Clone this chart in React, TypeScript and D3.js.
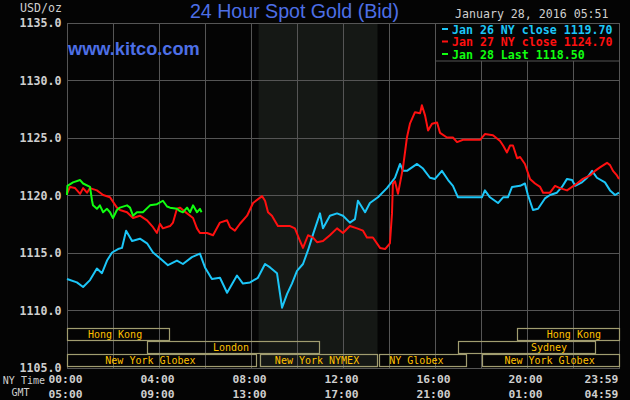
import React from "react";
import * as d3 from "d3";

const W = 630;
const H = 400;

// ---- data (hours since 00:00 NY time, USD/oz) ----
const jan26Hours = [0, 0.43, 0.7, 1.0, 1.3, 1.52, 1.74, 1.96, 2.22, 2.39, 2.57, 2.83, 3.17, 3.48, 3.74, 4.04, 4.39, 4.78, 5.04, 5.43, 5.78, 6.0, 6.3, 6.65, 6.96, 7.39, 7.65, 7.96, 8.3, 8.61, 8.83, 9.13, 9.35, 9.57, 9.78, 10.0, 10.26, 10.48, 10.7, 11.0, 11.13, 11.43, 11.74, 12.0, 12.3, 12.52, 12.65, 12.96, 13.17, 13.52, 13.91, 14.26, 14.48, 14.61, 14.78, 15.22, 15.48, 15.78, 16.0, 16.3, 16.57, 16.78, 17.0, 17.22, 18.04, 18.17, 18.39, 18.74, 18.96, 19.17, 19.35, 19.7, 19.91, 20.04, 20.26, 20.48, 20.78, 21.0, 21.3, 21.52, 21.74, 21.96, 22.09, 22.39, 22.61, 22.83, 23.04, 23.39, 23.61, 23.83, 24.0];
const jan26Values = [1112.7, 1112.4, 1112.0, 1112.6, 1113.6, 1113.2, 1114.3, 1115.0, 1115.3, 1115.4, 1116.9, 1116.0, 1116.2, 1115.8, 1115.0, 1114.5, 1113.9, 1114.3, 1114.0, 1114.6, 1114.9, 1113.7, 1112.7, 1112.8, 1111.5, 1113.0, 1112.3, 1112.4, 1112.8, 1114.0, 1113.7, 1113.2, 1110.2, 1111.4, 1112.3, 1113.4, 1114.0, 1115.2, 1116.6, 1118.4, 1117.1, 1118.2, 1118.4, 1118.2, 1117.6, 1117.9, 1119.5, 1118.5, 1119.3, 1119.8, 1120.6, 1121.5, 1122.7, 1122.1, 1122.1, 1122.7, 1122.3, 1121.5, 1121.4, 1122.1, 1121.3, 1120.8, 1119.8, 1119.8, 1119.8, 1120.4, 1119.8, 1119.3, 1119.8, 1119.8, 1120.7, 1120.8, 1121.0, 1120.0, 1118.7, 1118.8, 1119.7, 1120.0, 1120.2, 1120.7, 1121.4, 1121.3, 1120.8, 1121.1, 1121.5, 1122.1, 1121.5, 1121.1, 1120.4, 1120.0, 1120.2];

const jan27Hours = [0, 0.13, 0.35, 0.57, 0.7, 0.87, 1.0, 1.3, 1.57, 1.87, 2.17, 2.3, 2.61, 2.87, 3.17, 3.48, 3.74, 3.91, 4.04, 4.17, 4.48, 4.61, 4.78, 4.91, 5.22, 5.48, 5.65, 5.78, 6.09, 6.35, 6.65, 6.96, 7.09, 7.3, 7.52, 7.83, 8.09, 8.48, 8.61, 8.74, 8.91, 9.17, 9.7, 9.91, 10.13, 10.26, 10.48, 10.7, 10.87, 11.13, 11.43, 11.74, 12.0, 12.3, 12.61, 12.87, 13.04, 13.3, 13.61, 13.83, 14.04, 14.13, 14.17, 14.26, 14.39, 14.61, 14.78, 14.91, 15.13, 15.35, 15.43, 15.57, 15.7, 15.87, 16.09, 16.22, 16.52, 16.78, 16.96, 17.22, 17.96, 18.17, 18.52, 18.83, 18.96, 19.13, 19.26, 19.39, 19.57, 19.7, 19.91, 20.13, 20.35, 20.57, 20.7, 21.0, 21.22, 21.43, 21.74, 22.17, 22.43, 22.74, 22.96, 23.17, 23.48, 23.61, 23.74, 23.91, 24.0];
const jan27Values = [1120.1, 1120.7, 1120.6, 1120.1, 1120.6, 1120.2, 1120.6, 1120.4, 1120.0, 1119.8, 1118.9, 1118.7, 1118.5, 1118.0, 1118.2, 1117.8, 1117.2, 1116.7, 1117.5, 1117.1, 1117.3, 1117.6, 1118.8, 1118.9, 1118.4, 1118.0, 1117.1, 1116.7, 1116.7, 1116.5, 1117.6, 1117.8, 1117.2, 1116.9, 1117.5, 1118.2, 1119.3, 1119.9, 1119.5, 1118.5, 1118.2, 1117.3, 1117.3, 1117.1, 1116.0, 1115.4, 1116.5, 1116.3, 1115.9, 1116.0, 1116.5, 1117.1, 1116.7, 1117.3, 1117.1, 1116.9, 1116.3, 1116.3, 1115.4, 1115.3, 1115.8, 1118.4, 1121.0, 1121.2, 1120.1, 1122.4, 1125.0, 1126.2, 1127.2, 1127.1, 1127.8, 1126.9, 1125.6, 1126.2, 1126.3, 1125.4, 1125.0, 1125.0, 1124.6, 1124.8, 1124.8, 1125.3, 1125.2, 1124.7, 1124.3, 1123.7, 1124.3, 1124.3, 1123.2, 1123.3, 1122.7, 1121.4, 1121.0, 1120.7, 1120.2, 1120.2, 1120.8, 1120.6, 1120.4, 1121.0, 1121.4, 1121.7, 1122.1, 1122.4, 1122.8, 1122.6, 1122.1, 1121.7, 1121.4];

const jan28Hours = [0, 0.02, 0.26, 0.57, 0.7, 1.0, 1.09, 1.13, 1.3, 1.43, 1.57, 1.74, 1.87, 2.0, 2.17, 2.3, 2.61, 2.74, 2.87, 3.04, 3.3, 3.61, 3.91, 4.17, 4.35, 4.48, 4.78, 4.91, 5.04, 5.22, 5.35, 5.48, 5.65, 5.78, 5.85];
const jan28Values = [1120.0, 1120.8, 1121.1, 1121.3, 1121.0, 1120.7, 1119.5, 1119.1, 1118.8, 1119.1, 1118.5, 1118.8, 1118.5, 1118.0, 1118.7, 1118.9, 1119.1, 1118.9, 1118.2, 1118.5, 1118.5, 1119.1, 1119.2, 1119.5, 1119.0, 1118.9, 1118.8, 1118.6, 1118.5, 1118.9, 1118.5, 1119.1, 1118.5, 1118.8, 1118.5];

const legendLabels = ["Jan 26 NY close 1119.70", "Jan 27 NY close 1124.70", "Jan 28 Last 1118.50"];
const seriesColors = ["#1cc6f8", "#ff1010", "#10ff10"];

const yTicks = [1105, 1110, 1115, 1120, 1125, 1130, 1135];
const xGridHours = [0, 2, 4, 6, 8, 10, 12, 14, 16, 18, 20, 22, 24];
const xTickHours = [0, 4, 8, 12, 16, 20, 23.3];
const nyTimeLabels = ["00:00", "04:00", "08:00", "12:00", "16:00", "20:00", "23:59"];
const gmtLabels = ["05:00", "09:00", "13:00", "17:00", "21:00", "01:00", "04:59"];

const sessionNames = ["Hong Kong", "London", "New York Globex", "New York NYMEX", "NY Globex", "Sydney", "Hong Kong", "New York Globex"];
const sessionStarts = [0, 3.48, 0, 8.37, 13.57, 17.01, 19.55, 18.04];
const sessionEnds = [4.48, 11.0, 8.26, 13.5, 17.38, 22.99, 24, 24];
const sessionRows = [0, 1, 2, 2, 2, 1, 0, 2];
const sessionLabelHours = [2.09, 7.13, 3.63, 10.87, 15.19, 20.96, 22.04, 20.98];

const shadeStart = 8.33;
const shadeEnd = 13.5;

const MONO = "'DejaVu Sans Mono', 'Liberation Mono', monospace";
const SANS = "'Liberation Sans', Arial, sans-serif";

export default function App() {
  const x = d3.scaleLinear().domain([0, 24]).range([67, 619]);
  const y = d3.scaleLinear().domain([1105, 1135]).range([367.5, 22.5]);
  const line = d3
    .line<[number, number]>()
    .x((d) => x(d[0]))
    .y((d) => y(d[1]));

  const series = [
    d3.zip(jan26Hours, jan26Values) as [number, number][],
    d3.zip(jan27Hours, jan27Values) as [number, number][],
    d3.zip(jan28Hours, jan28Values) as [number, number][],
  ];

  const px = (v: number) => Math.round(v) + 0.5;
  const left = px(x(0)) ;
  const right = px(x(24));
  const top = px(y(1135));
  const bottom = px(y(1105));

  const rowTops = [328, 341, 354];
  const rowH = 12;

  const gridColor = "#555555";
  const boxColor = "#a19d70";
  const labelColor = "#ffc000";
  const textGray = "#cfcfcf";

  return (
    <svg
      width={W}
      height={H}
      style={{ position: "fixed", left: 0, top: 0, display: "block" }}
    >
      <rect x={0} y={0} width={W} height={H} fill="#040404" />
      {/* shaded NYMEX hours */}
      <rect
        x={x(shadeStart)}
        y={top}
        width={x(shadeEnd) - x(shadeStart)}
        height={bottom - top}
        fill="#151815"
      />
      {/* vertical grid */}
      {xGridHours.map((h, i) => (
        <line key={"vg" + i} x1={px(x(h))} x2={px(x(h))} y1={top} y2={bottom} stroke={gridColor} strokeWidth={1} />
      ))}
      {/* horizontal grid */}
      {yTicks.map((v, i) => (
        <line key={"hg" + i} x1={left} x2={right} y1={px(y(v))} y2={px(y(v))} stroke={gridColor} strokeWidth={1} />
      ))}
      <rect x={left} y={top} width={right - left} height={bottom - top} fill="none" stroke={gridColor} strokeWidth={1} />

      {/* session boxes */}
      {sessionNames.map((name, i) => {
        const x0 = px(x(sessionStarts[i]));
        const x1 = px(x(sessionEnds[i])) - (sessionEnds[i] >= 24 ? 0 : 1);
        const yt = rowTops[sessionRows[i]] + 0.5;
        return (
          <g key={"s" + i}>
            <rect x={x0} y={yt} width={x1 - x0} height={rowH} fill="none" stroke={boxColor} strokeWidth={1.2} />
            <text
              x={x(sessionLabelHours[i])}
              y={yt + 9.5}
              textAnchor="middle"
              fill={labelColor}
              fontFamily={MONO}
              fontSize={10}
            >
              {name}
            </text>
          </g>
        );
      })}

      {/* series lines */}
      {series.map((s, i) => (
        <path
          key={"l" + i}
          d={line(s) || ""}
          fill="none"
          stroke={seriesColors[i]}
          strokeWidth={2}
          strokeLinejoin="round"
        />
      ))}

      {/* legend box */}
      <rect x={px(435)} y={top} width={right - px(435)} height={61 - top} fill="#040404" stroke={gridColor} strokeWidth={1} />
      {legendLabels.map((lab, i) => (
        <g key={"lg" + i}>
          <rect x={442} y={28 + i * 12.5} width={6} height={2} fill={seriesColors[i]} />
          <text x={452} y={33.5 + i * 12.5} fill={seriesColors[i]} fontFamily={MONO} fontSize={11.6} fontWeight="bold">
            {lab}
          </text>
        </g>
      ))}

      {/* title & labels */}
      <text x={294.5} y={17.5} textAnchor="middle" fill="#4d6fe6" fontFamily={SANS} fontSize={19.6}>
        24 Hour Spot Gold (Bid)
      </text>
      <text x={68} y={55} fill="#4d6fe6" fontFamily={SANS} fontSize={18.2} fontWeight="bold">
        www.kitco.com
      </text>
      <text x={455} y={18} fill={textGray} fontFamily={MONO} fontSize={11.6}>
        January 28, 2016 05:51
      </text>
      <text x={62} y={11.5} textAnchor="end" fill={textGray} fontFamily={MONO} fontSize={11.6}>
        USD/oz
      </text>

      {/* y labels */}
      {yTicks.map((v, i) => (
        <text
          key={"yl" + i}
          x={61.5}
          y={y(v) + 4.5}
          textAnchor="end"
          fill={textGray}
          fontFamily={MONO}
          fontSize={11.6}
          fontWeight="bold"
        >
          {v.toFixed(1)}
        </text>
      ))}

      {/* x labels */}
      <text x={45} y={384} textAnchor="end" fill={textGray} fontFamily={MONO} fontSize={10}>
        NY Time
      </text>
      <text x={29.5} y={396} textAnchor="end" fill={textGray} fontFamily={MONO} fontSize={10}>
        GMT
      </text>
      {xTickHours.map((h, i) => (
        <g key={"xl" + i}>
          <text x={x(h) - 1.5} y={382.5} textAnchor="middle" fill={textGray} fontFamily={MONO} fontSize={11.3} fontWeight="bold">
            {nyTimeLabels[i]}
          </text>
          <text x={x(h) - 1.5} y={397.5} textAnchor="middle" fill={textGray} fontFamily={MONO} fontSize={11.3} fontWeight="bold">
            {gmtLabels[i]}
          </text>
        </g>
      ))}
    </svg>
  );
}
